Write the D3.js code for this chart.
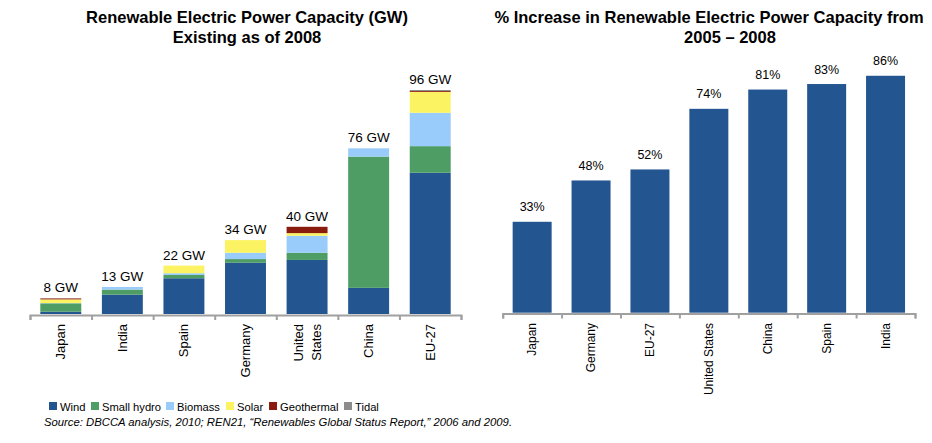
<!DOCTYPE html>
<html>
  <head>
    <meta charset="utf-8" />
    <title>Renewable Capacity</title>
    <script src="https://d3js.org/d3.v7.min.js"></script>
    <style>
        body {
            margin: 0;
            background: #fff;
        }
        text {
            font-family: "Liberation Sans", Arial, sans-serif;
            fill: #000;
        }
    </style>
  </head>
  <body>
    <svg id="chart"></svg>

    <script>
        // left chart: installed capacity (GW), stacked by source
        var gwCountries = ["Japan", "India", "Spain", "Germany", "United States", "China", "EU-27"];
        var wind       = [1.05, 8.9, 16.4, 23.5, 24.8, 12.0, 64.8];
        var smallHydro = [3.85, 2.3, 1.5, 1.7, 3.3, 60.2, 12.2];
        var biomass    = [0.1, 1.2, 0.8, 2.9, 7.8, 3.8, 15.3];
        var solar      = [1.7, 0, 3.5, 5.8, 1.2, 0, 9.6];
        var geothermal = [0.45, 0, 0, 0, 2.9, 0, 0.4];
        var tidal      = [0, 0, 0, 0, 0, 0, 0.45];
        var gwLabels = ["8 GW", "13 GW", "22 GW", "34 GW", "40 GW", "76 GW", "96 GW"];

        var sourceNames = ["Wind", "Small hydro", "Biomass", "Solar", "Geothermal", "Tidal"];
        var sourceColors = ["#235591", "#4e9d65", "#99ccfa", "#fbf362", "#8a1c0f", "#8c8c8c"];

        // right chart: % increase 2005-2008
        var pctCountries = ["Japan", "Germany", "EU-27", "United States", "China", "Spain", "India"];
        var pctIncrease = [33, 48, 52, 74, 81, 83, 86];

        var width = 932;
        var height = 443;
        var svg = d3.select("#chart").attr("width", width).attr("height", height);

        // titles
        var titles = [
            {x: 247, y: 23, t: "Renewable Electric Power Capacity (GW)"},
            {x: 247, y: 43, t: "Existing as of 2008"},
            {x: 709, y: 23, t: "% Increase in Renewable Electric Power Capacity from"},
            {x: 730, y: 43, t: "2005 \u2013 2008"}
        ];
        svg.selectAll(".title").data(titles).enter().append("text")
            .attr("class", "title")
            .attr("x", function(d){ return d.x; })
            .attr("y", function(d){ return d.y; })
            .attr("text-anchor", "middle")
            .style("font-size", "16.5px")
            .style("font-weight", "bold")
            .text(function(d){ return d.t; });

        // ---------- left stacked chart ----------
        var rows = gwCountries.map(function(c, i) {
            return {country: c, Wind: wind[i], "Small hydro": smallHydro[i], Biomass: biomass[i],
                    Solar: solar[i], Geothermal: geothermal[i], Tidal: tidal[i], label: gwLabels[i]};
        });

        var x1 = d3.scaleBand().domain(gwCountries).range([30, 461]).paddingInner(0.335).paddingOuter(0.1675);
        var y1 = d3.scaleLinear().domain([0, 100]).range([314, 96]);
        var color = d3.scaleOrdinal().domain(sourceNames).range(sourceColors);

        var series = d3.stack().keys(sourceNames)(rows);

        svg.append("g").selectAll("g").data(series).enter().append("g")
            .attr("fill", function(d){ return color(d.key); })
            .selectAll("rect").data(function(d){ return d; }).enter().append("rect")
            .attr("x", function(d){ return x1(d.data.country); })
            .attr("width", x1.bandwidth())
            .attr("y", function(d){ return y1(d[1]); })
            .attr("height", function(d){ return y1(d[0]) - y1(d[1]); });

        svg.append("g").selectAll("text").data(rows).enter().append("text")
            .attr("x", function(d){ return x1(d.country) + x1.bandwidth() / 2; })
            .attr("y", function(d){
                return y1(d.Wind + d["Small hydro"] + d.Biomass + d.Solar + d.Geothermal + d.Tidal) - 6;
            })
            .attr("text-anchor", "middle")
            .style("font-size", "13.5px")
            .text(function(d){ return d.label; });

        // axis with ticks between categories
        var idx1 = d3.scaleLinear().domain([0, gwCountries.length]).range([30, 461]);
        var ax1 = svg.append("g").attr("transform", "translate(0,315)")
            .call(d3.axisBottom(idx1).tickValues(d3.range(gwCountries.length + 1)).tickFormat("").tickSizeOuter(0).tickSize(5));
        ax1.selectAll("path, line").attr("stroke", "#a0a0a0").attr("stroke-width", 2);

        var lab1 = svg.append("g").selectAll("text").data(gwCountries).enter().append("text")
            .attr("transform", function(d){
                return "translate(" + (x1(d) + x1.bandwidth() / 2) + ",324) rotate(-90)";
            })
            .attr("text-anchor", "end")
            .style("font-size", "13px");
        lab1.each(function(d) {
            var parts = d === "United States" ? ["United", "States"] : [d];
            var t = d3.select(this);
            parts.forEach(function(p, k) {
                t.append("tspan").attr("x", 0)
                    .attr("dy", parts.length === 1 ? "0.35em" : (k === 0 ? "-0.35em" : "1.4em"))
                    .text(p);
            });
        });

        // legend
        var legendX = [49, 91, 166, 226, 269, 344];
        var leg = svg.append("g").selectAll("g").data(sourceNames).enter().append("g")
            .attr("transform", function(d, i){ return "translate(" + legendX[i] + ",402)"; });
        leg.append("rect").attr("width", 8).attr("height", 8).attr("fill", function(d){ return color(d); });
        leg.append("text").attr("x", 11).attr("y", 8.5).style("font-size", "11.2px").text(function(d){ return d; });

        svg.append("text")
            .attr("x", 44).attr("y", 426)
            .style("font-size", "11.3px")
            .style("font-style", "italic")
            .text("Source: DBCCA analysis, 2010; REN21, \u201cRenewables Global Status Report,\u201d 2006 and 2009.");

        // ---------- right bar chart ----------
        var x2 = d3.scaleBand().domain(pctCountries).range([502.7, 915]).paddingInner(0.338).paddingOuter(0.169);
        var y2 = d3.scaleLinear().domain([0, 100]).range([312.7, 37.2]);

        svg.append("g").selectAll("rect").data(pctIncrease).enter().append("rect")
            .attr("x", function(d, i){ return x2(pctCountries[i]); })
            .attr("width", x2.bandwidth())
            .attr("y", function(d){ return y2(d); })
            .attr("height", function(d){ return y2(0) - y2(d); })
            .attr("fill", "#235591");

        svg.append("g").selectAll("text").data(pctIncrease).enter().append("text")
            .attr("x", function(d, i){ return x2(pctCountries[i]) + x2.bandwidth() / 2; })
            .attr("y", function(d){ return y2(d) - 10.5; })
            .attr("text-anchor", "middle")
            .style("font-size", "12.5px")
            .text(function(d){ return d + "%"; });

        var idx2 = d3.scaleLinear().domain([0, pctCountries.length]).range([502.7, 915]);
        var ax2 = svg.append("g").attr("transform", "translate(0,313.5)")
            .call(d3.axisBottom(idx2).tickValues(d3.range(pctCountries.length + 1)).tickFormat("").tickSizeOuter(0).tickSize(5));
        ax2.selectAll("path, line").attr("stroke", "#a0a0a0").attr("stroke-width", 2);

        svg.append("g").selectAll("text").data(pctCountries).enter().append("text")
            .attr("transform", function(d){
                return "translate(" + (x2(d) + x2.bandwidth() / 2) + ",323) rotate(-90)";
            })
            .attr("text-anchor", "end")
            .attr("dy", "0.35em")
            .style("font-size", "12px")
            .text(function(d){ return d; });
    </script>
  </body>
</html>
